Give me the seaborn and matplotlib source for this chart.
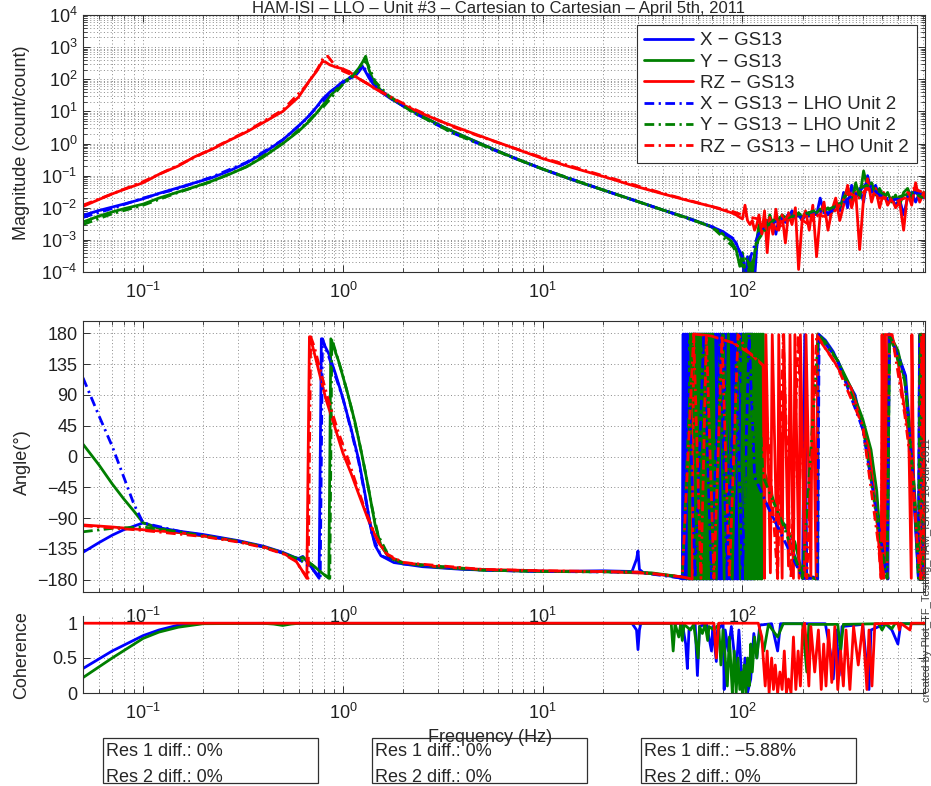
import numpy as np
import pandas as pd
import matplotlib
matplotlib.use("Agg")
import matplotlib.pyplot as plt
import seaborn as sns
from matplotlib.ticker import LogLocator, NullFormatter
from matplotlib.lines import Line2D
from matplotlib.patches import Rectangle

# ---------------------------------------------------------------- data
series_names = ["X − GS13", "Y − GS13", "RZ − GS13",
                "X − GS13 − LHO Unit 2", "Y − GS13 − LHO Unit 2", "RZ − GS13 − LHO Unit 2"]
series_colors = ["#0000ff", "#007f00", "#ff0000", "#0000ff", "#007f00", "#ff0000"]

# magnitude, GS13 (solid) -- shared frequency grid
freq_mag = [0.05, 0.06, 0.07, 0.08, 0.1, 0.12, 0.15, 0.18, 0.22, 0.27,
            0.33, 0.4, 0.5, 0.6, 0.68, 0.74, 0.79, 0.82, 0.86, 0.92,
            1.0, 1.08, 1.15, 1.2, 1.25, 1.3, 1.35, 1.42, 1.55, 1.75,
            2.0, 2.5, 3.2, 4.2, 5.5, 7.5, 10, 14, 20, 28,
            40, 55, 70, 80, 88, 93, 97, 100, 103, 106,
            109, 112, 115, 118, 121, 125, 129, 133, 137, 142,
            147, 152, 158, 164, 170, 177, 184, 191, 199, 207,
            216, 225, 235, 245, 256, 268, 280, 293, 307, 321,
            336, 352, 369, 386, 404, 423, 443, 464, 486, 509,
            533, 558, 584, 612, 641, 671, 703, 736, 771, 808,
            820]
mag_x = [0.0058, 0.0082, 0.0105, 0.013, 0.019, 0.028, 0.042, 0.059, 0.085, 0.14,
         0.25, 0.5, 1.3, 3.5, 7.5, 14, 24, 30, 40, 55,
         85, 105, 125, 170, 260, 170, 110, 70, 40, 24,
         15, 7, 3.2, 1.5, 0.72, 0.32, 0.16, 0.075, 0.036, 0.018,
         0.0085, 0.0045, 0.0026, 0.0018, 0.0012, 8e-4, 4e-4, 2e-4, 6e-5, 3e-4,
         5e-5, 2e-4, 6e-5, 6e-4, 2e-3, 3e-3, 2.5e-3, 4e-3, 3e-3, 4e-3,
         1.5e-3, 4.5e-3, 5e-3, 3.5e-3, 5e-3, 8e-3, 5e-3, 6e-3, 4e-3, 6e-3,
         5.5e-3, 7e-3, 6e-3, 0.02, 7e-3, 6e-3, 8e-3, 0.012, 8e-3, 0.03,
         0.01, 0.05, 0.02, 0.04, 0.015, 0.1, 0.03, 0.05, 0.02, 0.025,
         0.015, 0.02, 0.012, 0.018, 0.006, 0.02, 0.03, 0.015, 0.03, 0.02,
         0.025]
mag_y = [0.0036, 0.0055, 0.0074, 0.0093, 0.013, 0.02, 0.031, 0.044, 0.067, 0.11,
         0.19, 0.38, 1.0, 2.4, 5, 9, 15, 20, 30, 45,
         75, 110, 160, 220, 330, 520, 200, 90, 45, 25,
         15, 7, 3.2, 1.5, 0.72, 0.32, 0.16, 0.075, 0.036, 0.018,
         0.0085, 0.0045, 0.0025, 0.0015, 0.0009, 5e-4, 1.5e-4, 4e-4, 1e-4, 5e-5,
         3e-4, 8e-5, 4e-4, 1e-3, 3e-3, 1.5e-3, 4e-3, 2e-3, 6e-3, 3e-3,
         5e-3, 4e-3, 6e-3, 5e-3, 4e-3, 6e-3, 5e-3, 7e-3, 5e-3, 7e-3,
         6e-3, 8e-3, 7e-3, 9e-3, 8e-3, 0.01, 7e-3, 0.015, 0.01, 0.02,
         0.04, 0.015, 0.06, 0.02, 0.14, 0.04, 0.06, 0.025, 0.04, 0.02,
         0.03, 0.015, 0.025, 0.012, 0.03, 0.04, 0.02, 0.035, 0.02, 0.03,
         0.022]
mag_rz = [0.011, 0.018, 0.027, 0.037, 0.06, 0.11, 0.2, 0.38, 0.65, 1.25,
          2.3, 4.5, 10, 28, 90, 180, 360, 340, 280, 240,
          210, 170, 125, 105, 90, 78, 68, 55, 40, 27,
          16, 8.5, 4.5, 2.4, 1.3, 0.65, 0.34, 0.18, 0.095, 0.05,
          0.027, 0.016, 0.011, 0.0085, 0.007, 6e-3, 5e-3, 4.5e-3, 0.012, 4e-3,
          3e-3, 4e-3, 2e-3, 3e-3, 6e-3, 1.5e-3, 8e-3, 4e-4, 5e-3, 1.5e-3,
          9e-3, 2e-3, 6e-3, 8e-4, 7e-3, 3e-3, 0.01, 1.2e-4, 4e-3, 8e-3,
          2e-3, 0.012, 3e-4, 6e-3, 0.015, 2e-3, 8e-3, 0.02, 4e-3, 0.012,
          0.05, 0.01, 0.03, 5e-4, 0.02, 0.08, 0.015, 0.04, 0.01, 0.03,
          0.012, 0.02, 0.01, 0.015, 0.002, 0.03, 0.012, 0.06, 0.015, 0.03,
          0.02]

# magnitude, LHO Unit 2 (dash-dot)
freq_mag_lho = [0.05, 0.07, 0.1, 0.15, 0.22, 0.33, 0.5, 0.65, 0.75, 0.8,
                0.84, 0.9, 1.0, 1.1, 1.2, 1.27, 1.33, 1.45, 1.7, 2.2,
                3.5, 6, 10, 20, 40, 70, 90, 100, 105, 110,
                120, 135, 150, 170, 190, 215, 240, 270, 300, 340,
                380, 420, 470, 520, 580, 650, 720, 800]
mag_x_lho = [0.005, 0.0095, 0.02, 0.04, 0.09, 0.26, 1.3, 5.5, 15, 22,
             32, 48, 80, 120, 180, 250, 150, 65, 28, 10,
             2.2, 0.55, 0.16, 0.036, 0.0085, 0.0026, 0.0011, 3e-4, 8e-5, 3e-4,
             1.5e-3, 3e-3, 4e-3, 6e-3, 5e-3, 7e-3, 8e-3, 7e-3, 0.01, 0.02,
             0.03, 0.06, 0.03, 0.02, 0.018, 0.02, 0.03, 0.025]
mag_y_lho = [0.003, 0.0065, 0.012, 0.03, 0.065, 0.19, 1.0, 4, 10, 14,
             20, 33, 70, 110, 200, 380, 300, 85, 30, 10,
             2.2, 0.55, 0.16, 0.036, 0.0085, 0.0026, 6e-4, 1.5e-4, 3e-4, 1e-4,
             1e-3, 3e-3, 5e-3, 5e-3, 6e-3, 7e-3, 9e-3, 9e-3, 0.012, 0.03,
             0.04, 0.05, 0.035, 0.025, 0.02, 0.025, 0.03, 0.02]
mag_rz_lho = [0.012, 0.027, 0.065, 0.21, 0.68, 2.4, 11, 60, 220, 480,
              520, 300, 180, 140, 105, 85, 72, 52, 30, 13,
              3.4, 1.05, 0.36, 0.1, 0.028, 0.011, 0.0075, 0.006, 0.0055, 0.005,
              0.0045, 0.004, 2e-3, 6e-3, 5e-3, 3e-3, 6e-3, 5e-3, 0.01, 0.03,
              0.02, 0.04, 0.02, 0.02, 0.015, 0.02, 0.04, 0.03]

# phase (frequency Hz, degrees)
phase_x = [(0.05, -140), (0.06, -126), (0.07, -115), (0.08, -107), (0.1, -97), (0.12, -104),
           (0.15, -109), (0.2, -114), (0.25, -119), (0.3, -123), (0.4, -131), (0.5, -140),
           (0.57, -147), (0.6, -149), (0.63, -146), (0.7, -163), (0.76, -178), (0.78, 172),
           (0.85, 150), (0.92, 120), (1.0, 85), (1.1, 40), (1.2, -5), (1.3, -60), (1.38, -105),
           (1.45, -130), (1.55, -145), (1.8, -155), (2.5, -161), (4, -165), (7, -167), (12, -168),
           (20, -167), (28, -168), (29.5, -150), (30, -138), (30.5, -165), (32, -170), (40, -173),
           (48, -177), (50, -179),
           (50.5, 179), (51.1, -179), (51.7, 179), (52.3, -179), (52.9, 179), (53.5, -179),
           (54.2, 179), (54.8, -179), (55.5, 179), (56.1, -179), (56.8, 179), (57.5, -179),
           (58.2, 179), (58.9, -179), (59.6, 179), (60.3, -179), (61.0, 179), (61.8, -179),
           (62.5, 179), (63.3, -179), (64.0, 179), (64.8, -179), (65.6, 179), (66.4, -179),
           (67.2, 179), (68.0, -179), (68.8, 179), (69.6, -179), (70.5, 179), (71.3, -179),
           (72.2, 179), (73.1, -179), (74.0, 179), (74.9, -179), (75.8, 179), (76.7, -179),
           (77.6, 179), (78.6, -179), (79.5, 179), (80.5, -179), (81.4, 179), (82.4, -179),
           (83.4, 179), (84.4, -179), (85.4, 179), (86.5, -179), (87.5, 179), (88.6, -179),
           (89.6, 179), (90.7, -179), (91.8, 179), (92.9, -179), (94.0, 179), (95.2, -179),
           (96.3, 179), (97.5, -179), (98.7, 179), (99.9, -179), (101.1, 179), (102.3, -179),
           (103.6, 179), (104.8, -179), (106.1, 179), (107.4, -179), (108.7, 179), (110.0, -179),
           (111.3, 179), (112.6, -179),
           (114, -25), (125, -55), (140, -85), (155, -110), (165, -100), (175, -130), (190, -160),
           (200, -178), (205, 178), (210, -178), (225, -176), (238, -179), (240, 179), (260, 170),
           (285, 153), (320, 120), (366, 90), (400, 40), (430, 5), (460, -60), (480, -104),
           (500, -95), (520, -150), (535, -179), (540, 179), (600, 150), (656, 118), (700, 5),
           (740, -120), (760, -178), (770, 178), (785, -170), (800, 170), (815, -150)]
phase_y = [(0.05, 18), (0.06, -12), (0.07, -40), (0.08, -62), (0.09, -80), (0.1, -97), (0.12, -105),
           (0.15, -111), (0.2, -116), (0.25, -120), (0.3, -124), (0.4, -132), (0.5, -141),
           (0.57, -148), (0.6, -150), (0.63, -147), (0.7, -158), (0.8, -172), (0.85, -178),
           (0.87, 172), (0.95, 140), (1.05, 95), (1.15, 50), (1.25, 0), (1.35, -50), (1.45, -100),
           (1.55, -130), (1.7, -148), (2.0, -156), (3, -162), (5, -166), (10, -168), (20, -168),
           (35, -170), (50, -176), (54, -179),
           (54.5, 179), (55.2, -179), (55.9, 179), (56.5, -179), (57.2, 179), (57.9, -179),
           (58.6, 179), (59.3, -179), (60.0, 179), (60.8, -179), (61.5, 179), (62.3, -179),
           (63.0, 179), (63.8, -179), (64.6, 179), (65.3, -179), (66.1, 179), (67.0, -179),
           (67.8, 179), (68.6, -179), (69.4, 179), (70.3, -179), (71.1, 179),
           (74, -179), (77.5, 179), (81, -179), (85, 179), (89, -179), (93.5, 179), (97.5, -179),
           (101, 179),
           (103.2, -179), (104.4, 179), (105.7, -179), (107, 179), (108.3, -179), (109.6, 179),
           (110.9, -179), (112.3, 179), (113.6, -179), (115, 179), (116.4, -179), (117.8, 179),
           (119.3, -179), (120.7, 179), (122.2, -179), (123.7, 179), (125.2, -179), (126.7, 179),
           (129, -24), (135, -40), (145, -70), (155, -90), (170, -110), (183, -125), (195, -160),
           (202, -178), (210, -172), (225, -178), (236, -179), (238, 179), (260, 168), (300, 140),
           (350, 100), (400, 55), (440, 10), (470, -50), (490, -120), (500, -178), (510, 178),
           (530, -178), (545, 179), (600, 155), (650, 110), (700, 20), (730, -60), (760, -150),
           (775, -179), (785, 179), (800, -179), (815, 160)]
phase_rz = [(0.05, -100), (0.07, -103), (0.1, -107), (0.15, -111), (0.2, -116), (0.3, -124),
            (0.4, -132), (0.5, -141), (0.58, -152), (0.62, -165), (0.66, -178), (0.68, 175),
            (0.7, 165), (0.75, 130), (0.82, 85), (0.9, 48), (1.0, 5), (1.1, -25), (1.2, -55),
            (1.35, -95), (1.5, -125), (1.7, -146), (2.0, -155), (3, -161), (5, -165), (10, -167),
            (20, -168), (35, -171), (50, -176), (56, -179), (57, 179), (70, 176), (90, 166),
            (110, 150), (127, 133),
            (129, -178), (131, 178), (138, -170), (141, 178), (150, -178), (152, 178), (158, -178),
            (161, 178), (170, -160), (173, 178), (180, -178), (183, 178), (192, -178), (195, 178),
            (205, -178), (208, 178), (220, -178), (224, 178), (234, -178), (238, 178),
            (250, 165), (280, 145), (300, 130), (330, 110),
            (350, 100), (380, 65), (410, 30), (430, 10), (450, -40), (470, -90), (485, -140),
            (495, -178), (500, 178), (510, -178), (520, 178), (530, -178), (540, 178), (560, 178),
            (600, 140), (640, 80), (680, 30), (700, -178), (705, 178), (720, -40), (750, -130),
            (770, -178), (775, 178), (785, -178), (795, 178), (805, -178), (815, 178)]
phase_x_lho = [(0.05, 115), (0.06, 60), (0.07, 15), (0.08, -30), (0.09, -70), (0.1, -97), (0.15, -109),
               (0.2, -115), (0.3, -124), (0.4, -132), (0.5, -141), (0.6, -150), (0.7, -163),
               (0.77, -178), (0.79, 172), (0.9, 125), (1.0, 85), (1.1, 38), (1.2, -8), (1.3, -62),
               (1.4, -115), (1.55, -145), (2, -157), (5, -166), (10, -168), (30, -169), (50, -178),
               (53, 178), (58, -178), (64, 178), (70, -178), (77, 178), (84, -178), (92, 178),
               (100, -178), (108, 178), (115, -30), (140, -85), (180, -150), (200, -178),
               (238, -178), (242, 178), (300, 140), (400, 40), (480, -100), (530, -178), (545, 178),
               (650, 120), (720, -40), (760, -178), (770, 178), (800, -178)]
phase_y_lho = [(0.05, -110), (0.07, -105), (0.1, -103), (0.15, -110), (0.2, -116), (0.3, -124),
               (0.4, -132), (0.5, -141), (0.6, -150), (0.7, -158), (0.8, -172), (0.86, -178),
               (0.88, 172), (1.0, 118), (1.1, 72), (1.2, 25), (1.3, -25), (1.4, -75), (1.5, -115),
               (1.7, -146), (2, -156), (5, -166), (10, -168), (30, -169), (50, -176), (56, 178),
               (60, -178), (66, 178), (72, -178), (80, 178), (88, -178), (97, 178), (106, -178),
               (116, 178), (127, -30), (160, -100), (200, -178), (240, 178), (300, 140), (400, 50),
               (480, -110), (530, -178), (545, 178), (650, 110), (720, -40), (760, -178), (775, 178),
               (800, -178)]
phase_rz_lho = [(0.05, -101), (0.1, -108), (0.2, -117), (0.3, -125), (0.4, -133), (0.5, -142),
                (0.58, -153), (0.63, -168), (0.67, -178), (0.69, 175), (0.72, 160), (0.78, 120),
                (0.85, 80), (0.95, 35), (1.05, 0), (1.15, -35), (1.3, -80), (1.45, -115),
                (1.65, -142), (2, -155), (5, -165), (10, -167), (30, -169), (50, -176), (57, 178),
                (62, -178), (66, 178), (72, -178), (79, 178), (86, -178), (95, 178), (105, 155),
                (127, 133), (150, -178), (160, 178), (175, -178), (190, 178), (210, -178), (235, 178),
                (300, 130), (400, 45), (480, -130), (495, -178), (505, 178), (560, 178), (650, 60),
                (710, -30), (760, -150), (780, -178), (790, 178), (810, -178)]

# coherence (frequency Hz, coherence)
coh_x = [(0.05, 0.35), (0.07, 0.6), (0.1, 0.82), (0.12, 0.9), (0.15, 0.97), (0.2, 0.995), (1, 0.995),
         (28, 0.995), (29.5, 0.9), (30, 0.62), (30.5, 0.9), (31, 0.995), (50, 0.995), (52, 0.7),
         (53, 0.35), (54, 0.9), (58, 0.98), (59.5, 0.25), (61, 0.95), (66, 0.99), (70, 0.6),
         (71, 0.95), (74, 0.45), (75, 0.9), (80, 0.99), (81, 0.05), (82, 0.9), (85, 0.6), (88, 0.95),
         (93, 0.3), (96, 0.9), (100, 0.0), (103, 0.5), (106, 0.0), (110, 0.2), (114, 0.85),
         (118, 0.5), (122, 0.97), (140, 0.99), (150, 0.6), (155, 0.99), (260, 0.99), (275, 0.6),
         (285, 0.2), (295, 0.9), (305, 0.25), (315, 0.95), (400, 0.98), (430, 0.05), (440, 0.9),
         (520, 0.99), (560, 0.9), (600, 0.7), (620, 0.99), (820, 0.99)]
coh_y = [(0.05, 0.22), (0.07, 0.5), (0.1, 0.78), (0.12, 0.87), (0.15, 0.94), (0.2, 0.99), (0.4, 0.995),
         (0.45, 0.985), (0.5, 0.965), (0.55, 0.985), (0.6, 0.995), (44, 0.995), (45, 0.6), (46, 0.99),
         (48, 0.8), (49, 0.98), (50, 0.75), (51, 0.98), (55, 0.9), (57, 0.98), (60, 0.5), (61, 0.95),
         (63, 0.85), (65, 0.98), (67, 0.75), (68, 0.95), (72, 0.9), (76, 0.98), (78, 0.4), (80, 0.9),
         (84, 0.1), (86, 0.8), (89, 0.0), (91, 0.6), (93, 0.0), (95, 0.5), (97, 0.05), (99, 0.3),
         (100, 0.0), (102, 0.4), (104, 0.0), (106, 0.5), (108, 0.1), (110, 0.7), (112, 0.3),
         (115, 0.8), (118, 0.5), (122, 0.9), (128, 0.6), (135, 0.98), (150, 0.8), (160, 0.99),
         (200, 0.99), (210, 0.3), (215, 0.98), (300, 0.98), (310, 0.6), (320, 0.98), (480, 0.99),
         (500, 0.9), (520, 0.99), (560, 0.92), (580, 0.99), (820, 0.99)]
coh_rz = [(0.05, 0.997), (72, 0.997), (74, 0.5), (76, 0.997), (120, 0.997), (125, 0.8), (130, 0.1),
          (133, 0.6), (136, 0.0), (140, 0.5), (143, 0.05), (146, 0.4), (150, 0.0), (154, 0.3),
          (158, 0.05), (162, 0.6), (166, 0.0), (170, 0.2), (175, 0.0), (180, 0.8), (185, 0.05),
          (190, 0.6), (195, 0.1), (200, 0.9), (205, 0.997), (210, 0.6), (215, 0.1), (220, 0.95),
          (230, 0.3), (240, 0.9), (248, 0.05), (255, 0.7), (262, 0.1), (270, 0.9), (280, 0.15),
          (290, 0.95), (300, 0.05), (310, 0.6), (320, 0.1), (330, 0.9), (345, 0.05), (360, 0.95),
          (380, 0.4), (400, 0.98), (420, 0.05), (430, 0.9), (445, 0.1), (460, 0.99), (600, 0.997),
          (610, 0.9), (620, 0.997), (690, 0.9), (700, 0.997), (820, 0.997)]

title_text = "HAM-ISI – LLO – Unit #3 – Cartesian to Cartesian – April 5th, 2011"
res_texts = [("Res 1 diff.: 0%", "Res 2 diff.: 0%"),
             ("Res 1 diff.: 0%", "Res 2 diff.: 0%"),
             ("Res 1 diff.: −5.88%", "Res 2 diff.: 0%")]
stamp_text = "created by Plot_TF_Testing_HAM_ISI on 18-Jul-2011"

# ---------------------------------------------------------------- style
sns.set_style("ticks")
plt.rcParams.update({
    "font.family": ["Liberation Sans", "DejaVu Sans"],
    "mathtext.fontset": "custom",
    "mathtext.rm": "Liberation Sans",
    "mathtext.it": "Liberation Sans:italic",
    "mathtext.bf": "Liberation Sans:bold",
    "mathtext.default": "regular",
    "axes.linewidth": 0.8,
    "axes.edgecolor": "#303030",
    "xtick.color": "#303030",
    "ytick.color": "#303030",
    "xtick.labelcolor": "#202020",
    "ytick.labelcolor": "#202020",
    "xtick.labelsize": 13,
    "ytick.labelsize": 13,
})

W, H = 931, 786
fig = plt.figure(figsize=(W / 100, H / 100), dpi=100)


def ax_rect(left, top, right, bottom):
    return [left / W, 1 - bottom / H, (right - left) / W, (bottom - top) / H]


ax_mag = fig.add_axes(ax_rect(83, 15, 925, 272))
ax_coh = fig.add_axes(ax_rect(83, 616, 925, 693))
ax_ph = fig.add_axes(ax_rect(83, 321, 925, 592))
ax_coh.set_facecolor("none")
ax_ph.set_facecolor("none")

SOLID_LW = 2.0
DASH = (0, (3.5, 1.6, 0.8, 1.6))
grid_kw = dict(color="#8a8a8a", linestyle=(0, (1, 2.5)), linewidth=0.7)

xt = [0.1, 1, 10, 100]
xtl = [r"$10^{-1}$", r"$10^{0}$", r"$10^{1}$", r"$10^{2}$"]

for ax in (ax_mag, ax_ph, ax_coh):
    ax.set_xscale("log")
    ax.set_xlim(0.05, 820)
ax_mag.set_yscale("log")


def draw(ax, f, v, color, dashed):
    sns.lineplot(x=np.asarray(f, float), y=np.asarray(v, float), ax=ax, color=color,
                 lw=SOLID_LW, linestyle=DASH if dashed else "-",
                 estimator=None, sort=False, legend=False)


# magnitude
mag_sets = [(freq_mag, mag_x), (freq_mag, mag_y), (freq_mag, mag_rz),
            (freq_mag_lho, mag_x_lho), (freq_mag_lho, mag_y_lho), (freq_mag_lho, mag_rz_lho)]
for i, (f, v) in enumerate(mag_sets):
    draw(ax_mag, f, v, series_colors[i], i >= 3)

# phase
ph_sets = [phase_x, phase_y, phase_rz, phase_x_lho, phase_y_lho, phase_rz_lho]
for i, pairs in enumerate(ph_sets):
    f, v = zip(*pairs)
    draw(ax_ph, f, v, series_colors[i], i >= 3)

# coherence
for i, pairs in enumerate([coh_x, coh_y, coh_rz]):
    f, v = zip(*pairs)
    draw(ax_coh, f, v, series_colors[i], False)

# ---------------------------------------------------------------- axes cosmetics
for ax in (ax_mag, ax_ph, ax_coh):
    ax.set_xticks(xt, labels=xtl)
    ax.xaxis.set_minor_locator(LogLocator(base=10, subs=np.arange(2, 10), numticks=50))
    ax.xaxis.set_minor_formatter(NullFormatter())
    ax.set_xlabel("")
    ax.set_ylabel("")
    ax.set_axisbelow(True)
    ax.tick_params(which="both", direction="in", top=True, right=True)
    ax.tick_params(which="major", length=5, width=0.7, pad=4)
    ax.tick_params(axis="x", which="major", pad=7)
    ax.tick_params(which="minor", length=3, width=0.6)
    ax.grid(True, which="major", axis="both", **grid_kw)
    ax.grid(True, which="minor", axis="x", **grid_kw)
ax_ph.tick_params(axis="x", which="major", pad=11)

ax_mag.set_ylim(1e-4, 1e4)
ax_mag.set_yticks([10.0 ** k for k in range(-4, 5)],
                  labels=[r"$10^{%d}$" % k for k in range(-4, 5)])
ax_mag.yaxis.set_minor_locator(LogLocator(base=10, subs=np.arange(2, 10), numticks=50))
ax_mag.yaxis.set_minor_formatter(NullFormatter())
ax_mag.grid(True, which="minor", axis="y", **grid_kw)

ax_ph.set_ylim(-198, 198)
ax_ph.set_yticks(np.arange(-180, 181, 45),
                 labels=["−180", "−135", "−90", "−45", "0", "45", "90", "135", "180"])

ax_coh.set_ylim(0, 1.1)
ax_coh.set_yticks([0, 0.5, 1], labels=["0", "0.5", "1"])
ax_coh.spines["top"].set_visible(False)
ax_coh.tick_params(which="both", top=False)

# legend
handles = [Line2D([0], [0], color=series_colors[i], lw=SOLID_LW,
                  linestyle=DASH if i >= 3 else "-") for i in range(6)]
leg = ax_mag.legend(handles, series_names, loc="upper right", bbox_to_anchor=(0.990, 0.962),
                    borderaxespad=0, fontsize=13.5, handlelength=2.6, handletextpad=0.4,
                    labelspacing=0.22, borderpad=0.4, frameon=True, fancybox=False)
leg.get_frame().set_edgecolor("#303030")
leg.get_frame().set_linewidth(0.8)
leg.get_frame().set_alpha(1)

# figure texts
fig.text(22 / W, 1 - 143 / H, "Magnitude (count/count)", rotation=90, ha="center", va="center", fontsize=13)
fig.text(22 / W, 1 - 462 / H, "Angle(°)", rotation=90, ha="center", va="center", fontsize=13)
fig.text(22 / W, 1 - 655 / H, "Coherence", rotation=90, ha="center", va="center", fontsize=13)
fig.text(490 / W, 1 - 738 / H, "Frequency (Hz)", ha="center", va="center", fontsize=13)
fig.text(498 / W, 1 - 8 / H, title_text, ha="center", va="center", fontsize=12)
fig.text(927 / W, 1 - 570 / H, stamp_text, rotation=90, ha="center", va="center",
         fontsize=8, color="#404040")

box_lefts = [103, 372, 641]
for bx, (l1, l2) in zip(box_lefts, res_texts):
    fig.patches.append(Rectangle((bx / W, 1 - 783 / H), 215 / W, 45 / H, transform=fig.transFigure,
                                 fill=False, edgecolor="#303030", linewidth=0.9))
    fig.text((bx + 3) / W, 1 - 752 / H, l1, ha="left", va="center", fontsize=13)
    fig.text((bx + 3) / W, 1 - 777 / H, l2, ha="left", va="center", fontsize=13)

fig.savefig("out.png", dpi=100)
